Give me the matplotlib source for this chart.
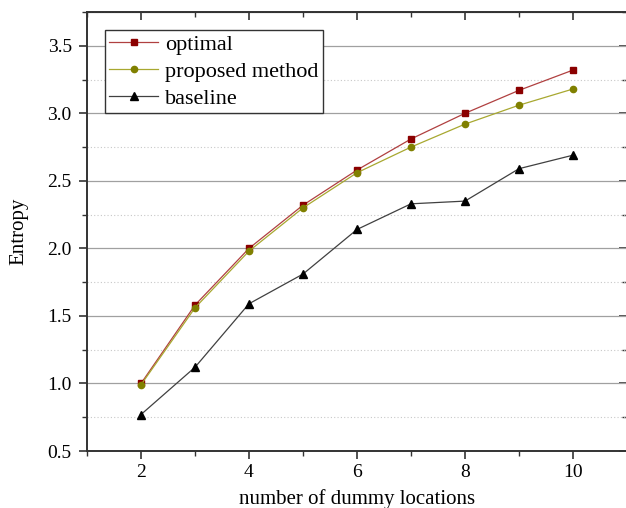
import matplotlib
matplotlib.use('Agg')
import matplotlib.pyplot as plt
from matplotlib.ticker import MultipleLocator

# data
dummy_locations = [2, 3, 4, 5, 6, 7, 8, 9, 10]
optimal = [1.00, 1.58, 2.00, 2.32, 2.58, 2.81, 3.00, 3.17, 3.32]
proposed = [0.99, 1.56, 1.98, 2.30, 2.56, 2.75, 2.92, 3.06, 3.18]
baseline = [0.77, 1.12, 1.59, 1.81, 2.14, 2.33, 2.35, 2.59, 2.69]

plt.rcParams['font.family'] = ['Liberation Serif', 'DejaVu Serif']

fig = plt.figure(figsize=(6.26, 5.08), dpi=100)
ax = fig.add_axes([87 / 626, 57 / 508, 540 / 626, 439 / 508])

ax.plot(dummy_locations, optimal, color='#b04040', lw=0.9, marker='s', ms=4.5,
        mfc='#8b0000', mec='#8b0000', label='optimal')
ax.plot(dummy_locations, proposed, color='#a8a830', lw=0.9, marker='o', ms=4.5,
        mfc='#808000', mec='#808000', label='proposed method')
ax.plot(dummy_locations, baseline, color='#404040', lw=0.9, marker='^', ms=5.5,
        mfc='black', mec='black', label='baseline')

ax.set_xlim(1, 11)
ax.set_ylim(0.5, 3.75)
ax.xaxis.set_major_locator(MultipleLocator(2))
ax.xaxis.set_minor_locator(MultipleLocator(1))
ax.yaxis.set_major_locator(MultipleLocator(0.5))
ax.yaxis.set_minor_locator(MultipleLocator(0.25))
ax.yaxis.set_major_formatter(plt.FormatStrFormatter('%.1f'))

ax.grid(axis='y', which='major', color='#a0a0a0', lw=0.9)
ax.grid(axis='y', which='minor', color='#c8c8c8', lw=0.8, ls=(0, (1, 2)))
ax.set_axisbelow(True)

ax.tick_params(which='both', direction='out', labelsize=14, color='#333333')
ax.tick_params(which='major', length=6, width=1.2)
ax.tick_params(which='minor', length=3.5, width=1.0)
ax.tick_params(axis='y', pad=5)
for sp in ax.spines.values():
    sp.set_linewidth(1.4)
    sp.set_color('#333333')

# inward ticks on top and right
ax2 = ax.secondary_xaxis('top')
ax2.xaxis.set_major_locator(MultipleLocator(2))
ax2.xaxis.set_minor_locator(MultipleLocator(1))
ax2.tick_params(which='both', direction='in', labeltop=False, color='#333333')
ax2.tick_params(which='major', length=6, width=1.2)
ax2.tick_params(which='minor', length=3.5, width=1.0)
ax2.set_xticklabels([])
ay2 = ax.secondary_yaxis('right')
ay2.yaxis.set_major_locator(MultipleLocator(0.5))
ay2.yaxis.set_minor_locator(MultipleLocator(0.25))
ay2.tick_params(which='both', direction='in', color='#333333')
ay2.tick_params(which='major', length=6, width=1.2)
ay2.tick_params(which='minor', length=3.5, width=1.0)
ay2.set_yticklabels([])

ax.set_xlabel('number of dummy locations', fontsize=15, labelpad=6)
ax.set_ylabel('Entropy', fontsize=15, labelpad=14)

leg = ax.legend(loc='upper left', bbox_to_anchor=(0.033, 0.96), fontsize=16,
                fancybox=False, framealpha=1, edgecolor='#333333',
                handlelength=2.2, handletextpad=0.3, borderpad=0.2,
                labelspacing=0.3, borderaxespad=0)
leg.get_frame().set_linewidth(1.0)

fig.savefig('out.png', dpi=100)
